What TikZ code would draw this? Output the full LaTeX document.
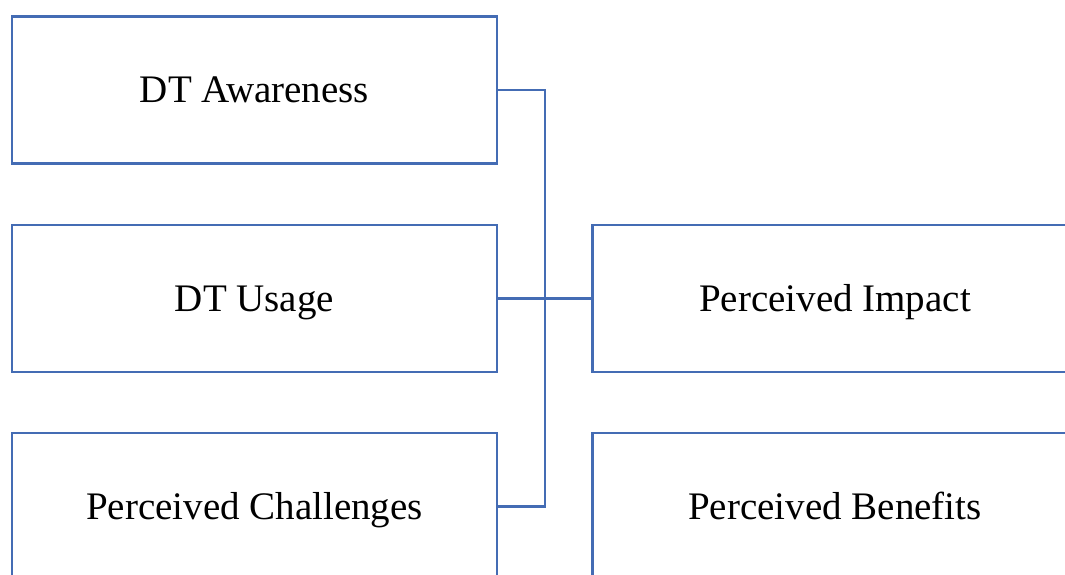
\documentclass[tikz,border=0pt]{standalone}
\usepackage{fontspec}
\setmainfont{Liberation Serif}
\definecolor{boxblue}{RGB}{68,108,180}
\begin{document}
\begin{tikzpicture}[x=1pt,y=-1pt,
  box/.style={draw=boxblue,line width=2.3pt,fill=white,minimum width=485pt,minimum height=147pt,inner sep=0pt,text height=27pt,text depth=1.5pt,font=\fontsize{39}{44}\selectfont,anchor=center},
  link/.style={draw=boxblue,line width=2.3pt}]
\path[use as bounding box] (0,0) rectangle (1065,575);
\clip (0,0) rectangle (1065,575);
\fill[white] (0,0) rectangle (1065,575);
\node[box] (aw) at (254.5,90) {DT Awareness};
\node[box] (us) at (254.5,298.5) {DT Usage};
\node[box] (ch) at (254.5,506.5) {Perceived Challenges};
\node[box] (im) at (835,298.5) {Perceived Impact};
\node[box] (be) at (835,506.5) {Perceived Benefits};
\coordinate (vx) at (545,0);
\draw[link] (aw.east) -| (vx |- ch.east) -- (ch.east);
\draw[link] (us.east) -- (im.west);
\end{tikzpicture}
\end{document}
